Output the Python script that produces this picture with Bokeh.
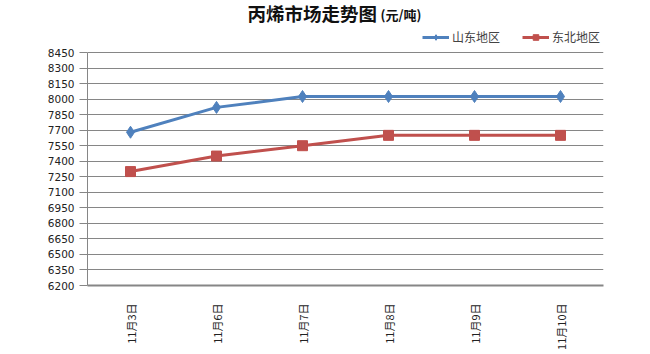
from math import pi
from bokeh.plotting import figure
from bokeh.models import Legend, LegendItem, Label, Range1d
from bokeh.embed import file_html
from bokeh.resources import INLINE

dates = ["11月3日", "11月6日", "11月7日", "11月8日", "11月9日", "11月10日"]
shandong = [7680, 7920, 8025, 8025, 8025, 8025]
dongbei = [7300, 7450, 7550, 7650, 7650, 7650]
y_ticks = list(range(6200, 8451, 150))
series_names = ["山东地区", "东北地区"]

BLUE = "#4F81BD"
RED = "#C0504D"
GRID = "#868686"

# axis spans 6200..8450 over 233 px; the frame extends 52 px higher to hold title/legend
y_lo, y_hi = 6200, 8450
px_per_unit = 233 / (y_hi - y_lo)
y_top = y_hi + 52 / px_per_unit

p = figure(width=650, height=354, x_range=dates, y_range=Range1d(y_lo, y_top),
           output_backend="svg", toolbar_location=None,
           min_border_left=87, min_border_right=47, min_border_top=0, min_border_bottom=69)
p.outline_line_color = None
p.background_fill_color = "white"

l1 = p.line(dates, shandong, line_color=BLUE, line_width=3)
m1 = p.scatter(dates, shandong, marker="diamond", size=12, fill_color=BLUE, line_color=BLUE)
l2 = p.line(dates, dongbei, line_color=RED, line_width=3)
m2 = p.scatter(dates, dongbei, marker="square", size=10, fill_color=RED, line_color=RED)

p.xgrid.grid_line_color = None
p.ygrid.grid_line_color = GRID
p.ygrid.grid_line_width = 1
p.yaxis.ticker = y_ticks
p.yaxis.bounds = (y_lo, y_hi)
p.yaxis.axis_line_color = GRID
p.yaxis.major_tick_line_color = GRID
p.yaxis.major_tick_out = 8
p.yaxis.major_tick_in = 0
p.yaxis.minor_tick_line_color = None
p.yaxis.major_label_standoff = 5
p.yaxis.major_label_text_font = "DejaVu Sans"
p.yaxis.major_label_text_font_size = "10.5px"
p.yaxis.major_label_text_color = "#222222"

p.xaxis.axis_line_color = GRID
p.xaxis.axis_line_width = 2
p.xaxis.major_tick_line_color = None
p.xaxis.minor_tick_line_color = None
p.xaxis.major_label_orientation = pi / 2
p.xaxis.major_label_standoff = 12
p.xaxis.major_label_text_font = "Noto Sans CJK SC"
p.xaxis.major_label_text_font_size = "11px"
p.xaxis.major_label_text_color = "#222222"

legend = Legend(items=[LegendItem(label=series_names[0], renderers=[l1, m1]),
                       LegendItem(label=series_names[1], renderers=[l2, m2])],
                orientation="horizontal", location=(335, 240),
                border_line_color=None, background_fill_alpha=0,
                label_text_font="Noto Sans CJK SC", label_text_font_size="12px",
                glyph_width=27, glyph_height=14, label_standoff=3, spacing=22,
                padding=0, margin=0, label_height=14)
p.add_layout(legend, "center")

title = Label(x=160, y=273, x_units="screen", y_units="screen", text="丙烯市场走势图",
              text_font="Noto Sans CJK SC", text_font_size="18.5px", text_font_style="bold",
              text_baseline="middle", text_align="left", text_color="#111111")
unit = Label(x=293, y=271, x_units="screen", y_units="screen", text="(元/吨)",
             text_font="Noto Sans CJK SC", text_font_size="13px", text_font_style="bold",
             text_baseline="middle", text_align="left", text_color="#111111")
p.add_layout(title)
p.add_layout(unit)

open("out.html", "w").write(file_html(p, INLINE))
